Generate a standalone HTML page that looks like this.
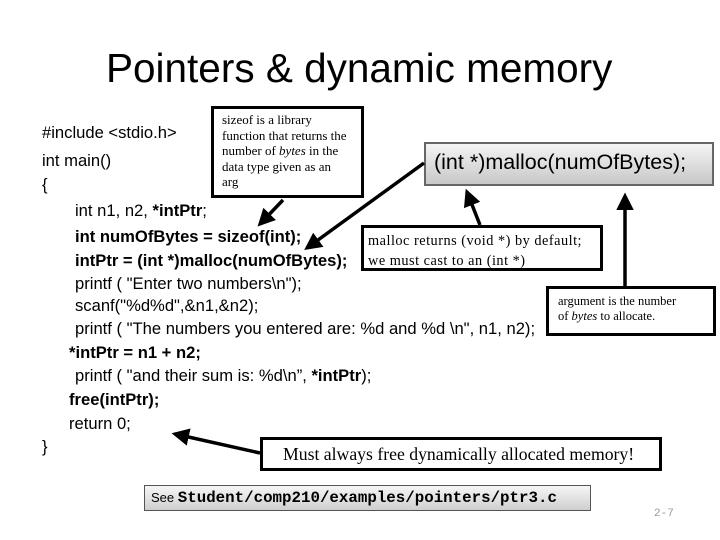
<!DOCTYPE html>
<html><head><style>
body{margin:0;width:720px;height:540px;background:#fff;position:relative;overflow:hidden;font-family:"Liberation Sans",sans-serif}
.a{position:absolute;white-space:nowrap}
.c{font-size:16.6px;color:#000}
.b{font-weight:bold}
.box{position:absolute;border:3px solid #000;background:#fff;box-sizing:border-box}
.s{font-family:"Liberation Serif",serif}
</style></head><body>
<div class="a" style="left:106px;top:45px;font-size:40.5px">Pointers &amp; dynamic memory</div>
<div class="a c" style="left:42px;top:123px">#include &lt;stdio.h&gt;</div>
<div class="a c" style="left:42px;top:151px">int main()</div>
<div class="a c" style="left:42px;top:175px">{</div>
<div class="a c" style="left:75px;top:201px">int n1, n2, <b>*intPtr</b>;</div>
<div class="a c b" style="left:75px;top:227px">int numOfBytes = sizeof(int);</div>
<div class="a c b" style="left:75px;top:251px">intPtr = (int *)malloc(numOfBytes);</div>
<div class="a c" style="left:75px;top:274px">printf ( "Enter two numbers\n");</div>
<div class="a c" style="left:75px;top:296px">scanf("%d%d",&amp;n1,&amp;n2);</div>
<div class="a c" style="left:75px;top:319px">printf ( "The numbers you entered are: %d and %d \n", n1, n2);</div>
<div class="a c b" style="left:69px;top:343px">*intPtr = n1 + n2;</div>
<div class="a c" style="left:75px;top:366px">printf ( "and their sum is: %d\n”, <b>*intPtr</b>);</div>
<div class="a c b" style="left:69px;top:390px">free(intPtr);</div>
<div class="a c" style="left:69px;top:414px">return 0;</div>
<div class="a c" style="left:42px;top:437px">}</div>

<div class="box s" style="left:211px;top:106px;width:153px;height:92px;padding:3px 8px;font-size:13px;line-height:15.5px">sizeof is a library<br>function that returns the<br>number of <i>bytes</i> in the<br>data type given as an<br>arg</div>
<div class="box" style="left:424px;top:142px;width:290px;height:44px;border:2px solid #666;background:linear-gradient(#f4f4f4,#c8c8c8)"><div class="a" style="left:8px;top:6px;font-size:21.5px">(int *)malloc(numOfBytes);</div></div>
<div class="box s" style="left:361px;top:225px;width:242px;height:46px;padding:3px 4px;font-size:14.3px;line-height:20px;letter-spacing:0.5px">malloc returns (void *) by default;<br>we must cast to an (int *)</div>
<div class="box s" style="left:546px;top:286px;width:170px;height:50px;padding:5px 9px;font-size:12.5px;line-height:15px">argument is the number<br>of <i>bytes</i> to allocate.</div>
<div class="box s" style="left:260px;top:437px;width:402px;height:34px;padding:4px 20px;font-size:17.7px">Must always free dynamically allocated memory!</div>
<div class="box" style="left:144px;top:485px;width:447px;height:26px;border:1px solid #555;background:linear-gradient(#f6f6f6,#cfcfcf);padding:3px 6px;font-size:13px">See <span style="font-family:'Liberation Mono',monospace;font-weight:bold;font-size:15.8px">Student/comp210/examples/pointers/ptr3.c</span></div>
<div class="a" style="left:654px;top:508px;font-size:11px;color:#999;font-family:'Liberation Mono',monospace">2-7</div>

<svg width="720" height="540" style="position:absolute;left:0;top:0">
<defs><marker id="m" markerWidth="5" markerHeight="5" refX="4" refY="2.5" orient="auto"><path d="M0,0L5,2.5L0,5z" fill="#000"/></marker></defs>
<g stroke="#000" stroke-width="3.5" marker-end="url(#m)">
<line x1="283" y1="200" x2="260" y2="224"/>
<line x1="424" y1="163" x2="307" y2="248"/>
<line x1="480" y1="225" x2="467" y2="192"/>
<line x1="625" y1="286" x2="625" y2="196"/>
<line x1="260" y1="453" x2="175" y2="434"/>
</g></svg>
</body></html>
